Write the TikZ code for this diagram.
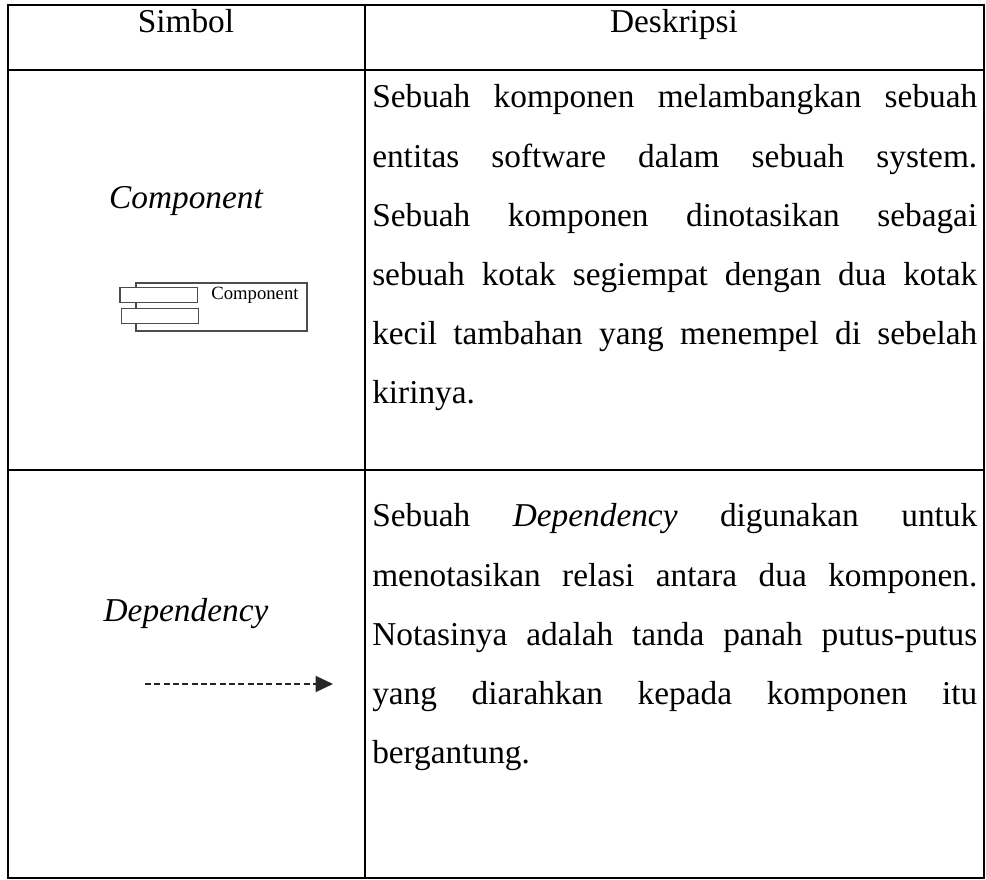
\documentclass[tikz,border=0pt]{standalone}
\usepackage{fontspec}
\setmainfont{Liberation Serif}
\usetikzlibrary{arrows.meta,positioning}

\begin{document}
\begin{tikzpicture}[x=0.75pt,y=-0.75pt,
    frame/.style={line width=1.1pt},
    cell/.style={inner sep=0pt,font=\fontsize{25}{44.4}\selectfont},
    desc/.style={cell,text width=453.75pt,align=justify,anchor=base west,
      execute at begin node={\hyphenpenalty=10000\exhyphenpenalty=10000\tolerance=10000}},
    iconbox/.style={draw=black!70,line width=1pt,fill=white},
    dep/.style={draw=black!85,line width=1.1pt,dash pattern=on 4.5pt off 2.5pt,
      -{Triangle[length=13pt,width=12pt]}}]
  \useasboundingbox (0,0) rectangle (986,880);
    \draw[frame] (8,5) rectangle (984,878);
    \draw[frame] (365,5) -- (365,878);
    \draw[frame] (8,70) -- (984,70);
    \draw[frame] (8,470) -- (984,470);

    \node[cell,anchor=base] (simbol) at (186,33) {Simbol};
    \node[cell,anchor=base] (deskripsi) at (674,33) {Deskripsi};

    \node[cell,anchor=base,font=\fontsize{25}{30}\selectfont\itshape] (component) at (186,209) {Component};
    \draw[iconbox] (136,283) rectangle (307,331);
    \node[iconbox] (compa) at (158.5,295) [minimum width=58pt,minimum height=11.5pt,inner sep=0pt] {};
    \node[iconbox] (compb) at (160,316) [minimum width=58pt,minimum height=11.5pt,inner sep=0pt] {};
    \node[inner sep=0pt,font=\fontsize{14}{15}\selectfont,right=10pt of compa.east] (complabel) {Component};
    \node[desc] (compdesc) at (372,108) {Sebuah komponen melambangkan sebuah\linebreak
      entitas software dalam sebuah system.\linebreak
      Sebuah komponen dinotasikan sebagai\linebreak
      sebuah kotak segiempat dengan dua kotak\linebreak
      kecil tambahan yang menempel di sebelah\linebreak
      kirinya.};

    \node[cell,anchor=base,font=\fontsize{25}{30}\selectfont\itshape] (dependency) at (186,621) {Dependency};
    \coordinate (depfrom) at (145,684);
    \coordinate (depto) at (333,684);
    \draw[dep] (depfrom) -- (depto);
    \node[desc] (depdesc) at (372,527) {Sebuah \textit{Dependency} digunakan untuk\linebreak
      menotasikan relasi antara dua komponen.\linebreak
      Notasinya adalah tanda panah putus-putus\linebreak
      yang diarahkan kepada komponen itu\linebreak
      bergantung.};
\end{tikzpicture}
\end{document}
